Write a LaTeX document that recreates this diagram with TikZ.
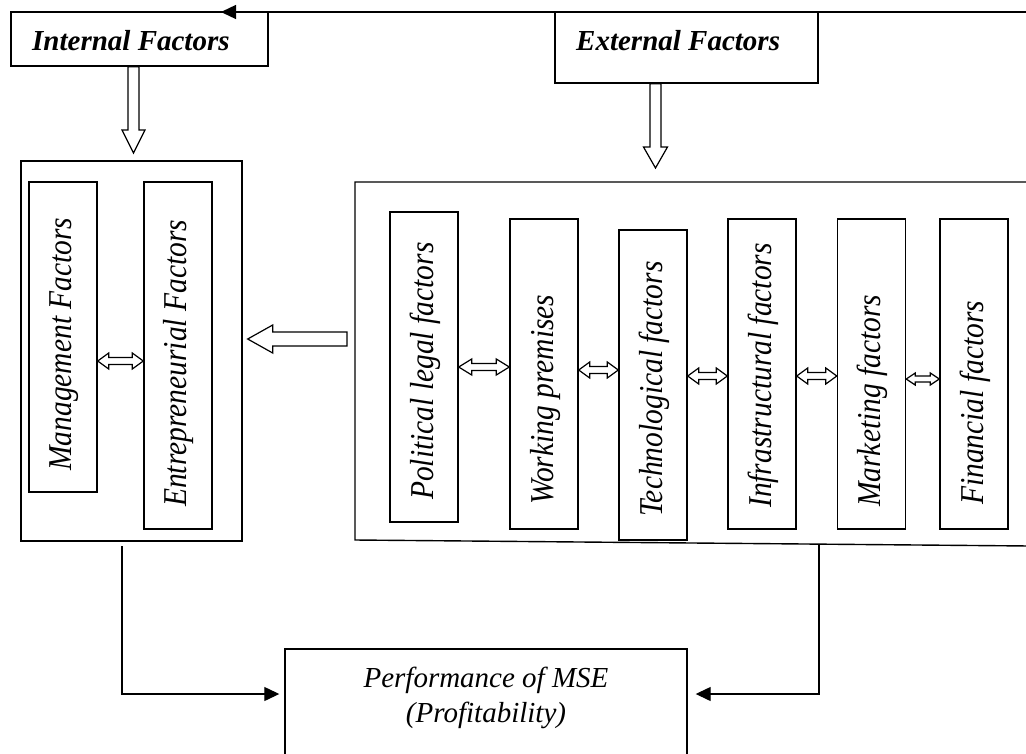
\documentclass[tikz,border=0pt]{standalone}
\usepackage{fontspec}
\setmainfont{Liberation Serif}
\usetikzlibrary{calc,arrows.meta}
\tikzset{
  box/.style={draw, line width=1.4pt, inner sep=0pt},
  conn/.style={line width=1.3pt, -{Triangle[length=15pt,width=14pt]}},
  blk/.style={draw, line width=1.2pt, fill=white, line join=miter},
  hlabel/.style={inner sep=0pt, anchor=base west, font=\fontsize{29}{35}\selectfont\bfseries\itshape},
  vlabel/.style={inner sep=0pt, anchor=base west, rotate=90, font=\fontsize{29.5}{35}\selectfont\itshape},
  plabel/.style={inner sep=0pt, align=center, font=\fontsize{29}{35}\selectfont\itshape},
}
\newcommand\vt[1]{\scalebox{1}[1.13]{#1}}
% hollow block arrow: #1 tail, #2 tip, #3 shaft half width, #4 head half width, #5 head length
\newcommand\blockarrow[5]{%
  \coordinate (bahb) at ($(#2)!#5!(#1)$);
  \draw[blk] ($(#1)!#3!90:(#2)$) -- ($(bahb)!#3!90:(#2)$) -- ($(bahb)!#4!90:(#2)$) -- (#2)
    -- ($(bahb)!#4!-90:(#2)$) -- ($(bahb)!#3!-90:(#2)$) -- ($(#1)!#3!-90:(#2)$) -- cycle;}
% hollow double arrow: #1 tip A, #2 tip B, #3 shaft half, #4 head half, #5 head length
\newcommand\dblarrow[5]{%
  \coordinate (dha) at ($(#1)!#5!(#2)$);
  \coordinate (dhb) at ($(#2)!#5!(#1)$);
  \draw[blk] (#1) -- ($(dha)!#4!90:(#2)$) -- ($(dha)!#3!90:(#2)$) -- ($(dhb)!#3!-90:(#1)$)
    -- ($(dhb)!#4!-90:(#1)$) -- (#2) -- ($(dhb)!#4!90:(#1)$) -- ($(dhb)!#3!90:(#1)$)
    -- ($(dha)!#3!-90:(#2)$) -- ($(dha)!#4!-90:(#2)$) -- cycle;}
\begin{document}
\begin{tikzpicture}[x=1pt,y=-1pt]
\useasboundingbox (0,0) rectangle (1026,753);
\clip (0,0) rectangle (1026,753);

% top boxes
\node[box, minimum width=257pt, minimum height=54pt] (int) at (139.5,39) {};
\node[hlabel] (inttxt) at (32,50) {Internal Factors};
\node[box, minimum width=263pt, minimum height=71pt] (ext) at (686.5,47.5) {};
\node[hlabel] (exttxt) at (576,50) {External Factors};

% top connector
\coordinate (tr) at (1030,12);
\coordinate (it) at (221,12);
\draw[conn] (tr) -- (it);

% left group
\node[box, minimum width=221pt, minimum height=380pt] (lb) at (131.5,351) {};
\node[box, minimum width=68pt, minimum height=310pt] (mgmt) at (63,337) {};
\node[vlabel] (mgmttxt) at (71,471) {\vt{Management Factors}};
\node[box, minimum width=68pt, minimum height=347pt] (entre) at (178,355.5) {};
\node[vlabel] (entretxt) at (186,507) {\vt{Entrepreneurial Factors}};

% right group frame
\coordinate (rb1) at (1030,182);
\coordinate (rb2) at (355,182);
\coordinate (rb3) at (355,540);
\coordinate (rb4) at (1030,546);
\draw[line width=1.4pt] (rb1) -- (rb2) -- (rb3) -- (rb4);

\node[box, minimum width=68pt, minimum height=310pt] (pol) at (424,367) {};
\node[vlabel] (poltxt) at (433,500) {\vt{Political legal factors}};
\node[box, minimum width=68pt, minimum height=310pt] (work) at (544,374) {};
\node[vlabel] (worktxt) at (553,505) {\vt{Working premises}};
\node[box, minimum width=68pt, minimum height=310pt] (tech) at (653,385) {};
\node[vlabel] (techtxt) at (662,517) {\vt{Technological factors}};
\node[box, minimum width=68pt, minimum height=310pt] (infra) at (762,374) {};
\node[vlabel] (infratxt) at (771,508) {\vt{Infrastructural factors}};
\node[box, minimum width=68pt, minimum height=310pt] (mark) at (871.5,374) {};
\node[vlabel] (marktxt) at (880.5,507) {\vt{Marketing factors}};
\node[box, minimum width=68pt, minimum height=310pt] (fin) at (974,374) {};
\node[vlabel] (fintxt) at (983,505) {\vt{Financial factors}};

% hollow arrows
\coordinate (ia1) at (int.south -| 133.5,0);
\coordinate (ia2) at (133.5,153);
\blockarrow{ia1}{ia2}{5.5pt}{11.5pt}{23pt}
\coordinate (ea1) at (ext.south -| 655.5,0);
\coordinate (ea2) at (655.5,168);
\blockarrow{ea1}{ea2}{5.5pt}{12pt}{21pt}
\coordinate (la1) at (347,339);
\coordinate (la2) at (lb.east |- 0,339);
\coordinate (la2b) at ($(la2)+(5,0)$);
\blockarrow{la1}{la2b}{7pt}{14pt}{25pt}

% double arrows
\coordinate (d0a) at (mgmt.east |- 0,361);
\coordinate (d0b) at (entre.west |- 0,361);
\dblarrow{d0a}{d0b}{3.5pt}{8pt}{11pt}
\coordinate (d1a) at (pol.east |- 0,367);
\coordinate (d1b) at (work.west |- 0,367);
\dblarrow{d1a}{d1b}{3.5pt}{8pt}{13pt}
\coordinate (d2a) at (work.east |- 0,370);
\coordinate (d2b) at (tech.west |- 0,370);
\dblarrow{d2a}{d2b}{3.5pt}{8pt}{11pt}
\coordinate (d3a) at (tech.east |- 0,376);
\coordinate (d3b) at (infra.west |- 0,376);
\dblarrow{d3a}{d3b}{3.5pt}{8pt}{11pt}
\coordinate (d4a) at (infra.east |- 0,376);
\coordinate (d4b) at (mark.west |- 0,376);
\dblarrow{d4a}{d4b}{3.5pt}{8pt}{11pt}
\coordinate (d5a) at (mark.east |- 0,379);
\coordinate (d5b) at (fin.west |- 0,379);
\dblarrow{d5a}{d5b}{3pt}{6pt}{9pt}

% performance box
\node[box, minimum width=402pt, minimum height=141pt] (perf) at (486,719.5) {};
\node[plabel] (perftxt) at (486,697.5) {Performance of MSE\\(Profitability)};

% bottom connectors
\coordinate (ls) at (122,546);
\coordinate (lc) at (122,694);
\coordinate (lt) at ($(perf.west |- 0,694)+(-5,0)$);
\draw[conn] (ls) -- (lc) -- (lt);
\coordinate (rs) at (819,545);
\coordinate (rc) at (819,694);
\coordinate (rt) at ($(perf.east |- 0,694)+(8,0)$);
\draw[conn] (rs) -- (rc) -- (rt);
\end{tikzpicture}
\end{document}
